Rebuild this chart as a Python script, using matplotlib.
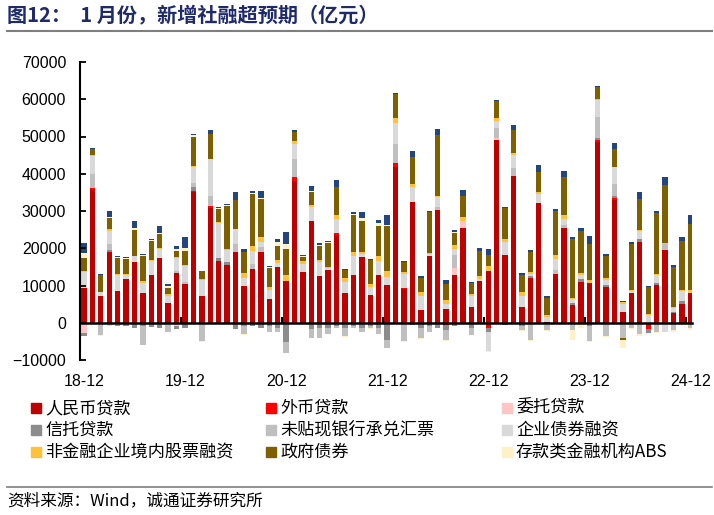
import numpy as np
import matplotlib
matplotlib.use('Agg')
from matplotlib import pyplot as plt
from matplotlib.patches import Rectangle
from matplotlib.lines import Line2D

plt.rcParams['font.family'] = ['Liberation Sans', 'Noto Sans CJK SC', 'DejaVu Sans']

# monthly data, 2018-12 ... 2024-12 (亿元)
tick_labels = ['18-12', '19-12', '20-12', '21-12', '22-12', '23-12', '24-12']

rmb = [9300, 35700, 7300, 19100, 8400, 11800, 16400, 7900, 12800, 17300, 5300, 13300,
       10500, 35200, 7200, 30800, 16700, 15500, 19000, 9800, 14300, 19000, 6300, 15000,
       11100, 38100, 13600, 27400, 12600, 14100, 23600, 8100, 12900, 17600, 7500, 12700,
       10200, 41700, 9000, 32300, 3300, 18000, 30200, 3800, 12900, 25400, 4100, 11100,
       14000, 49100, 18200, 39500, 4200, 12000, 32100, 300, 13100, 25400, 4800, 10900,
       10800, 48500, 9500, 33000, 3000, 8000, 21600, 0, 10200, 19600, 2600, 5000,
       8100]
fx = [-300, 400, 0, 0, 0, 0, 0, 0, 0, 0, 0, 0,
      0, 300, 0, 500, 0, 0, 0, 0, 0, 0, 0, 0,
      -300, 900, 0, 0, 0, 0, 400, 0, 0, 0, 0, 0,
      0, 1200, 300, 0, 0, 0, 0, -500, 0, 0, 0, 0,
      -1500, 0, 0, 0, 0, 0, 0, 0, 0, 0, 0, 0,
      0, 600, 0, 600, 0, 0, 0, -1600, 0, 0, 0, 0,
      0]
entrusted = [-2500, 0, 0, -1000, -500, 0, 0, 0, 0, 0, 0, -800,
             -300, 0, 300, 0, 0, 0, 0, 0, 0, 0, 0, 0,
             0, 0, 300, 0, 0, 0, 0, 0, 0, 0, 0, 0,
             0, 0, 0, 0, 0, 0, 0, 0, 1800, 1800, -300, 0,
             0, 400, 0, 0, 0, 0, 0, 0, 0, 0, 0, 0,
             0, 0, 0, 0, 0, 0, 0, 0, 0, 0, 0, 0,
             0]
trust = [-700, 0, 0, 500, -500, -1000, -1500, -800, -1200, -1500, 0, -1000,
         -1200, 1000, 0, 0, 600, 900, -1800, -1000, -1000, -1500, -1000, -1500,
         -5000, 0, 0, -1800, -1500, -1500, -1000, -1500, -1000, -1500, -1000, -1500,
         -4500, 0, 0, -500, -1500, -1000, -1500, -1500, -800, 0, -1000, 0,
         -1000, 0, -500, 0, -1000, 500, 0, 0, 0, 0, 400, 900,
         -1000, 600, 700, 300, 0, 0, 800, -1100, 500, 0, 300, 900,
         0]
undiscounted = [0, 3800, -3400, 1500, 0, 0, 0, -5200, 0, 0, -2500, 600,
                500, 1000, -5000, 2700, 0, 0, 2100, -2000, 1400, 1400, -1500, -1000,
                -2700, 5000, 0, -2200, -2500, -1500, -500, -2000, -500, -1000, -500, -1500,
                -2200, 5100, -5000, 0, -2500, -1500, 1000, -2500, 3600, 0, -2000, 0,
                0, 2900, 0, 2000, -1000, -4500, 0, -2000, 1100, 900, -2000, 0,
                -4000, 5600, -3500, 3400, -4000, -1500, -3000, 0, -2500, 1500, -2000, 0,
                -1500]
corp_bonds = [4200, 4900, 900, 3600, 4300, 1100, 1400, 2900, 3700, 2500, 2000, 3500,
              4200, 4300, 3900, 10000, 9400, 3100, 4100, 2300, 3600, 1300, 2400, 1000,
              0, 3900, 1900, 3700, 3600, 500, 3800, 2900, 4900, 900, 2200, 3900,
              2000, 5600, 3800, 4100, 4000, 400, 2500, 1200, 1600, 0, 3000, 700,
              -5000, 1800, 3600, 3600, 3100, 500, 2400, 1300, 3000, 1600, 1200, 1100,
              0, 4500, 1300, 4400, 2000, 600, 2100, 2100, 2100, -2500, 1100, 2500,
              0]
equity = [300, 300, 100, 400, 300, 100, 200, 400, 300, 400, 300, 300,
          400, 400, 400, 0, 300, 300, 0, 1200, 1200, 1300, 800, 900,
          1600, 900, 700, 600, 700, 400, 1100, 1100, 1300, 600, 800, 1300,
          1800, 1300, 400, 800, 900, 200, 400, 1200, 1100, 1100, 700, 800,
          1300, 900, 700, 600, 900, 500, 500, 600, 1100, 1000, 200, 400,
          700, 400, 400, 0, 500, 300, 300, 300, 400, 300, 300, 400,
          700]
gov_bonds = [3500, 1600, 4600, 3000, 4300, 4100, 7000, 6600, 5100, 3700, 1800, 1500,
             3600, 7600, 2000, 6800, 3500, 11600, 7800, 5800, 14000, 10100, 5100, 3600,
             7200, 2500, 1100, 3400, 3800, 6300, 7600, 2100, 9800, 8300, 6300, 8100,
             11900, 6400, 2900, 7400, 3900, 11000, 16300, 4200, 3100, 5800, 2900, 6700,
             3000, 4300, 8200, 6100, 4600, 5600, 5500, 4500, 11800, 10300, 15900, 11400,
             9700, 3000, 6000, 5000, -700, 12200, 8500, 7100, 16200, 15500, 10600, 13200,
             17600]
abs_dep = [1500, -200, -200, 300, 300, 300, 400, 300, 300, 200, 500, 700,
           900, 600, -300, 0, 200, 200, 0, -300, 300, 300, 300, 1300,
           1200, -200, 300, 300, 200, 300, 0, -200, 300, 600, -300, 800,
           400, 0, -300, 0, -300, 0, 0, -300, 300, 0, 0, -200,
           -300, 0, 0, 0, -300, -300, -200, -300, -200, 0, -2500, -1500,
           -300, 0, -200, 0, -2000, -300, -500, -300, -300, 0, -500, -500,
           -500]
write_off = [2500, 300, 300, 1500, 300, 300, 1900, 300, 400, 1800, 400, 700,
             2900, 300, 200, 1000, 300, 300, 2000, 700, 700, 2100, 400, 700,
             3200, 400, 300, 1300, 500, 400, 1800, 300, 500, 1600, 300, 700,
             2500, 400, 300, 1500, 500, 400, 1700, 1000, 400, 1600, 300, 700,
             1400, 400, 400, 1200, 500, 500, 1800, 400, 500, 1500, 400, 700,
             2000, 400, 500, 1500, 400, 500, 1900, 400, 500, 2100, 500, 900,
             2500]

series = [
    ('人民币贷款', rmb, '#C00000'),
    ('外币贷款', fx, '#FF0000'),
    ('委托贷款', entrusted, '#FFC4C4'),
    ('信托贷款', trust, '#8C8C8C'),
    ('未贴现银行承兑汇票', undiscounted, '#BFBFBF'),
    ('企业债券融资', corp_bonds, '#D9D9D9'),
    ('非金融企业境内股票融资', equity, '#FFC03A'),
    ('政府债券', gov_bonds, '#7F6000'),
    ('存款类金融机构ABS', abs_dep, '#FFF0C8'),
    (None, write_off, '#23467F'),
]

W, H = 714, 515
fig = plt.figure(figsize=(W / 100, H / 100), dpi=100)
ax = fig.add_axes([80 / W, 1 - 360 / H, (692 - 80) / W, (360 - 62) / H])

x = np.arange(len(rmb))
pos_bottom = np.zeros(len(x))
neg_bottom = np.zeros(len(x))
for name, vals, color in series:
    v = np.array(vals, dtype=float)
    pos = np.where(v > 0, v, 0)
    neg = np.where(v < 0, v, 0)
    ax.bar(x, pos, bottom=pos_bottom, width=0.64, color=color, linewidth=0)
    ax.bar(x, neg, bottom=neg_bottom, width=0.64, color=color, linewidth=0)
    pos_bottom += pos
    neg_bottom += neg

ax.set_xlim(-0.47, 72.2)
ax.set_ylim(-10000, 70000)
ax.set_yticks(np.arange(-10000, 70001, 10000))
ax.tick_params(axis='y', direction='in', length=4, width=1.3, labelsize=11.5, pad=10)

ax.spines['top'].set_visible(False)
ax.spines['right'].set_visible(False)
ax.spines['left'].set_linewidth(1.5)
ax.spines['bottom'].set_position(('data', 0))
ax.spines['bottom'].set_linewidth(1.8)
ax.spines['bottom'].set_zorder(5)

ax.set_xticks(np.arange(0, 73, 12))
ax.set_xticklabels(tick_labels)
ax.set_xticks(np.arange(11.5, 72, 12), minor=True)
ax.tick_params(axis='x', which='major', length=0, labelsize=11.5, pad=37)
ax.tick_params(axis='x', which='minor', direction='in', length=4, width=1.5)

# title and rules
fig.text(7 / W, 1 - 15 / H, '图12：  1 月份，新增社融超预期（亿元）', fontsize=14.5,
         fontweight='bold', color='#1F2A6B', va='center', ha='left',
         family=['Noto Sans CJK SC', 'DejaVu Sans'])
fig.add_artist(Line2D([7 / W, 712 / W], [1 - 31 / H, 1 - 31 / H], color='#7F7F7F', lw=1.5))
fig.add_artist(Line2D([7 / W, 712 / W], [1 - 487 / H, 1 - 487 / H], color='#7F7F7F', lw=1.2))
fig.text(7 / W, 1 - 501 / H, '资料来源：Wind，诚通证券研究所', fontsize=12,
         va='center', ha='left', family=['Noto Sans CJK SC', 'DejaVu Sans'])

# legend, 3 x 3
col_x = [31, 266, 502]
row_y = [408, 430, 452]
items = [s for s in series if s[0] is not None]
for i, (name, vals, color) in enumerate(items):
    cx = col_x[i % 3]
    cy = row_y[i // 3]
    fig.add_artist(Rectangle((cx / W, 1 - (cy + 5) / H), 10 / W, 10 / H,
                             color=color, transform=fig.transFigure))
    fig.text((cx + 14) / W, 1 - cy / H, name, fontsize=12.3, va='center', ha='left',
             family=['Noto Sans CJK SC', 'DejaVu Sans'])

fig.savefig('out.png', dpi=100)
